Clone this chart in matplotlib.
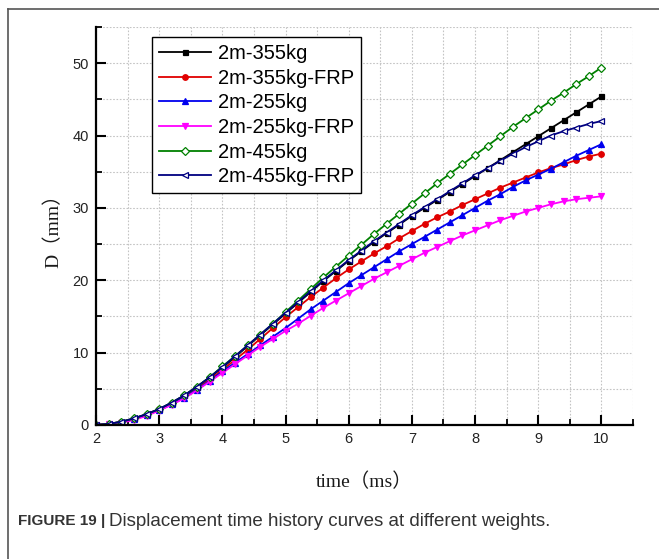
#!/usr/bin/env python3
"""Displacement time history curves at different weights (FIGURE 19)."""
import matplotlib
matplotlib.use("Agg")
import matplotlib.pyplot as plt
from matplotlib.lines import Line2D
from matplotlib.ticker import MultipleLocator

TIME_MS = [2.0, 2.2, 2.4, 2.6, 2.8, 3.0, 3.2, 3.4, 3.6, 3.8,
           4.0, 4.2, 4.4, 4.6, 4.8, 5.0, 5.2, 5.4, 5.6, 5.8,
           6.0, 6.2, 6.4, 6.6, 6.8, 7.0, 7.2, 7.4, 7.6, 7.8,
           8.0, 8.2, 8.4, 8.6, 8.8, 9.0, 9.2, 9.4, 9.6, 9.8, 10.0]

D_355 = [0.0, 0.15, 0.45, 0.9, 1.5, 2.2, 3.1, 4.1, 5.3, 6.6,
         7.9, 9.4, 10.9, 12.4, 13.9, 15.4, 16.9, 18.4, 19.9, 21.3,
         22.7, 24.0, 25.3, 26.5, 27.7, 28.9, 30.0, 31.1, 32.2, 33.3,
         34.4, 35.5, 36.6, 37.7, 38.8, 39.9, 41.0, 42.1, 43.2, 44.3, 45.4]
D_355_FRP = [0.0, 0.15, 0.4, 0.85, 1.45, 2.15, 3.0, 4.0, 5.1, 6.3,
             7.6, 9.0, 10.4, 11.9, 13.4, 14.9, 16.3, 17.7, 19.0, 20.3,
             21.5, 22.6, 23.7, 24.7, 25.8, 26.8, 27.8, 28.7, 29.5, 30.4,
             31.2, 32.0, 32.8, 33.5, 34.2, 34.9, 35.5, 36.0, 36.6, 37.1, 37.5]
D_255 = [0.0, 0.1, 0.35, 0.8, 1.35, 2.05, 2.85, 3.8, 4.9, 6.1,
         7.4, 8.6, 9.8, 11.0, 12.2, 13.4, 14.7, 16.0, 17.2, 18.4,
         19.6, 20.7, 21.8, 22.9, 24.0, 25.0, 26.0, 27.0, 28.0, 29.0,
         30.0, 31.0, 31.9, 32.9, 33.8, 34.6, 35.4, 36.3, 37.2, 38.0, 38.8]
D_255_FRP = [0.0, 0.1, 0.3, 0.7, 1.25, 2.0, 2.8, 3.7, 4.8, 6.0,
             7.2, 8.4, 9.6, 10.8, 11.9, 13.0, 14.0, 15.1, 16.2, 17.2,
             18.2, 19.2, 20.2, 21.1, 22.0, 22.9, 23.8, 24.6, 25.4, 26.2,
             26.9, 27.6, 28.3, 28.9, 29.5, 30.0, 30.5, 30.9, 31.2, 31.4, 31.6]
D_455 = [0.0, 0.15, 0.45, 0.9, 1.5, 2.2, 3.1, 4.1, 5.3, 6.6,
         8.1, 9.5, 11.0, 12.5, 14.0, 15.6, 17.2, 18.8, 20.4, 21.9,
         23.4, 24.9, 26.4, 27.8, 29.2, 30.6, 32.0, 33.4, 34.7, 36.0,
         37.3, 38.6, 39.9, 41.2, 42.4, 43.6, 44.8, 45.9, 47.1, 48.2, 49.4]
D_455_FRP = [0.0, 0.15, 0.45, 0.9, 1.5, 2.2, 3.1, 4.1, 5.3, 6.6,
             8.0, 9.5, 11.0, 12.5, 14.0, 15.5, 17.0, 18.5, 20.0, 21.4,
             22.8, 24.1, 25.4, 26.6, 27.8, 29.0, 30.1, 31.2, 32.3, 33.4,
             34.5, 35.5, 36.5, 37.5, 38.4, 39.2, 40.0, 40.6, 41.1, 41.6, 42.0]

LABELS = ["2m-355kg", "2m-355kg-FRP", "2m-255kg", "2m-255kg-FRP",
          "2m-455kg", "2m-455kg-FRP"]
SERIES = [D_355, D_355_FRP, D_255, D_255_FRP, D_455, D_455_FRP]

# colour, marker, marker size, marker face
STYLES = [
    ("#000000", "s", 3.6, None),
    ("#e00000", "o", 4.0, None),
    ("#0000ee", "^", 4.4, None),
    ("#ff00ff", "v", 4.4, None),
    ("#008000", "D", 4.0, "white"),
    ("#000080", "<", 4.8, "white"),
]

SANS = ["Liberation Sans", "DejaVu Sans"]
SERIF = ["Liberation Serif", "Noto Sans CJK SC", "DejaVu Serif"]

fig = plt.figure(figsize=(6.59, 5.59), dpi=100)
ax = fig.add_axes([96 / 659, 1 - 425 / 559, 537 / 659, 398 / 559])

for values, label, (color, marker, ms, face) in zip(SERIES, LABELS, STYLES):
    ax.plot(TIME_MS, values, color=color, linewidth=1.3, marker=marker,
            markersize=ms, markerfacecolor=face if face else color,
            markeredgecolor=color, markeredgewidth=0.9, label=label)

ax.set_xlim(2, 10.5)
ax.set_ylim(0, 55)
ax.xaxis.set_major_locator(MultipleLocator(1))
ax.xaxis.set_minor_locator(MultipleLocator(0.5))
ax.yaxis.set_major_locator(MultipleLocator(10))
ax.yaxis.set_minor_locator(MultipleLocator(5))
ax.set_xticks(range(2, 11))

ax.grid(which="both", color="#c4c4c4", linestyle=(0, (1.5, 1.5)), linewidth=0.8)
ax.set_axisbelow(True)
for side in ("top", "right"):
    ax.spines[side].set_visible(False)
for side in ("left", "bottom"):
    ax.spines[side].set_linewidth(1.6)

ax.tick_params(which="major", direction="in", length=7, width=1.5,
               labelsize=10.5, labelcolor="#222222", pad=5)
ax.tick_params(which="minor", direction="in", length=4, width=1.3)
for lbl in ax.get_xticklabels() + ax.get_yticklabels():
    lbl.set_family(SANS)

ax.set_xlabel("time（ms）", family=SERIF, fontsize=14, color="#1a1a1a", labelpad=19)
ax.set_ylabel("D（mm）", family=SERIF, fontsize=14, color="#1a1a1a", labelpad=7)

leg = ax.legend(loc="upper left", bbox_to_anchor=(0.104, 0.975), borderaxespad=0,
                prop={"family": SANS, "size": 14.5}, frameon=True, fancybox=False,
                edgecolor="black", framealpha=1, numpoints=1, handlelength=2.6,
                handletextpad=0.35, labelspacing=0.28, borderpad=0.35)
leg.get_frame().set_linewidth(1.0)

# page frame (top and left edges only)
fig.add_artist(Line2D([8 / 659, 1], [1 - 9 / 559, 1 - 9 / 559],
                      transform=fig.transFigure, color="#555555", linewidth=1.2))
fig.add_artist(Line2D([8 / 659, 8 / 659], [0, 1 - 9 / 559],
                      transform=fig.transFigure, color="#555555", linewidth=1.2))

# caption: bold prefix then regular text
cap_y = 1 - 521 / 559
bold = fig.text(18 / 659, cap_y, "FIGURE 19 |", family=SANS, fontweight="bold",
                fontsize=11, color="#333333", va="center")
fig.canvas.draw()
bb = bold.get_window_extent(fig.canvas.get_renderer())
fig.text(bb.x1 / fig.bbox.width + 4 / 659, cap_y,
         "Displacement time history curves at different weights.",
         family=SANS, fontsize=13.5, color="#333333", va="center")

fig.savefig("out.png", dpi=100)
